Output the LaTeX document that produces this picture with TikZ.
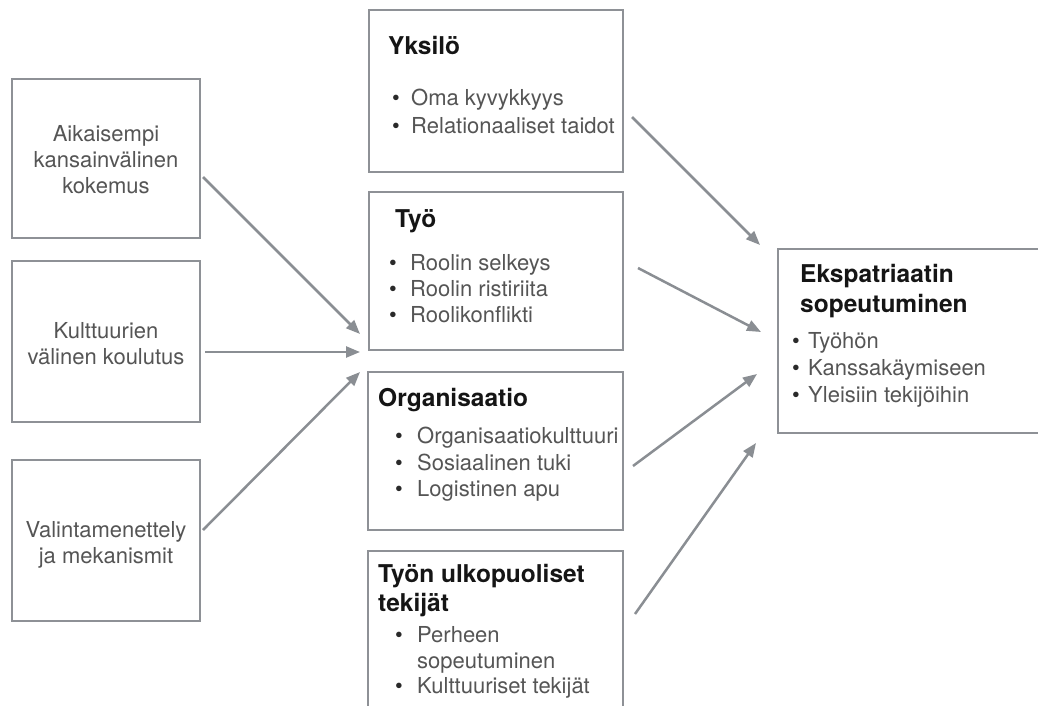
\documentclass[tikz,border=0pt]{standalone}
\usepackage{fontspec}
\setmainfont{TeX Gyre Heros}
\usetikzlibrary{arrows.meta}
\definecolor{boxgray}{HTML}{8E9196}
\definecolor{arrowgray}{HTML}{8A8E93}
\definecolor{textgray}{HTML}{555555}
\definecolor{titleblack}{HTML}{151515}
\definecolor{bulletblack}{HTML}{2A2A2A}
\tikzset{
  box/.style={draw=boxgray, line width=2pt, fill=white, rectangle, inner sep=0pt},
  body/.style={font=\fontsize{22}{26}\selectfont, text=textgray, inner sep=0pt, anchor=base west},
  bodyc/.style={body, anchor=base},
  titletext/.style={font=\bfseries\fontsize{24.5}{30}\selectfont, text=titleblack, inner sep=0pt, anchor=base west},
  bul/.style={font=\fontsize{22}{26}\selectfont, text=bulletblack, inner sep=0pt, anchor=base west},
  arr/.style={draw=arrowgray, line width=2.5pt, -{Triangle[length=14pt,width=11pt]}},
}
\begin{document}
\begin{tikzpicture}[x=1pt,y=-1pt]
\useasboundingbox (0,0) rectangle (1038,706);
\clip (0,0) rectangle (1038,706);
\fill[white] (0,0) rectangle (1038,706);
% boxes
\node[box, minimum width=188pt, minimum height=159pt] (L1) at (106,158.5) {};
\node[box, minimum width=188pt, minimum height=161pt] (L2) at (106,341.5) {};
\node[box, minimum width=188pt, minimum height=161pt] (L3) at (106,540.5) {};
\node[box, minimum width=254pt, minimum height=162pt] (M1) at (496,91) {};
\node[box, minimum width=254pt, minimum height=158pt] (M2) at (496,271) {};
\node[box, minimum width=255pt, minimum height=158pt] (M3) at (495.5,451) {};
\node[box, minimum width=255pt, minimum height=169pt] (M4) at (495.5,635.5) {};
\node[box, minimum width=272pt, minimum height=184pt] (R) at (914,341) {};
% left texts
\node[bodyc] (l1a) at (106,141) {Aikaisempi};
\node[bodyc] (l1b) at (106,167) {kansainvälinen};
\node[bodyc] (l1c) at (106,193) {kokemus};
\node[bodyc] (l2a) at (106,338) {Kulttuurien};
\node[bodyc] (l2b) at (106,364) {välinen koulutus};
\node[bodyc] (l3a) at (106,537) {Valintamenettely};
\node[bodyc] (l3b) at (106,563) {ja mekanismit};
% Yksilö
\node[titletext] (m1t) at (388,55) {Yksilö};
\node[bul] (m1b1) at (392,106) {•};
\node[body] (m1x1) at (411,106) {Oma kyvykkyys};
\node[bul] (m1b2) at (392,133) {•};
\node[body] (m1x2) at (411,133) {Relationaaliset taidot};
% Työ
\node[titletext] (m2t) at (395,227) {Työ};
\node[bul] (m2b1) at (389,270) {•};
\node[body] (m2x1) at (410,270) {Roolin selkeys};
\node[bul] (m2b2) at (389,296) {•};
\node[body] (m2x2) at (410,296) {Roolin ristiriita};
\node[bul] (m2b3) at (389,322) {•};
\node[body] (m2x3) at (410,322) {Roolikonflikti};
% Organisaatio
\node[titletext] (m3t) at (378,406) {Organisaatio};
\node[bul] (m3b1) at (395,443) {•};
\node[body] (m3x1) at (417,443) {Organisaatiokulttuuri};
\node[bul] (m3b2) at (395,470) {•};
\node[body] (m3x2) at (417,470) {Sosiaalinen tuki};
\node[bul] (m3b3) at (395,496) {•};
\node[body] (m3x3) at (417,496) {Logistinen apu};
% Työn ulkopuoliset tekijät
\node[titletext] (m4t1) at (378,582) {Työn ulkopuoliset};
\node[titletext] (m4t2) at (378,611) {tekijät};
\node[bul] (m4b1) at (395,642) {•};
\node[body] (m4x1) at (417,642) {Perheen};
\node[body] (m4x1b) at (417,668) {sopeutuminen};
\node[bul] (m4b2) at (395,693) {•};
\node[body] (m4x2) at (417,693) {Kulttuuriset tekijät};
% right box
\node[titletext] (rt1) at (800,282) {Ekspatriaatin};
\node[titletext] (rt2) at (800,312) {sopeutuminen};
\node[bul] (rb1) at (792,348) {•};
\node[body] (rx1) at (808,348) {Työhön};
\node[bul] (rb2) at (792,375) {•};
\node[body] (rx2) at (808,375) {Kanssakäymiseen};
\node[bul] (rb3) at (792,402) {•};
\node[body] (rx3) at (808,402) {Yleisiin tekijöihin};
% connector endpoints
\coordinate (a1s) at (203,177);
\coordinate (a1e) at (360,334);
\coordinate (a2s) at (205,352);
\coordinate (a2e) at (360,352);
\coordinate (a3s) at (203,530);
\coordinate (a3e) at (360,372);
\coordinate (a4s) at (632,117);
\coordinate (a4e) at (760,245);
\coordinate (a5s) at (638,268);
\coordinate (a5e) at (761,332);
\coordinate (a6s) at (633,466);
\coordinate (a6e) at (757,374);
\coordinate (a7s) at (635,614);
\coordinate (a7e) at (756,443);
\draw[arr] (a1s) -- (a1e);
\draw[arr] (a2s) -- (a2e);
\draw[arr] (a3s) -- (a3e);
\draw[arr] (a4s) -- (a4e);
\draw[arr] (a5s) -- (a5e);
\draw[arr] (a6s) -- (a6e);
\draw[arr] (a7s) -- (a7e);
\end{tikzpicture}
\end{document}
